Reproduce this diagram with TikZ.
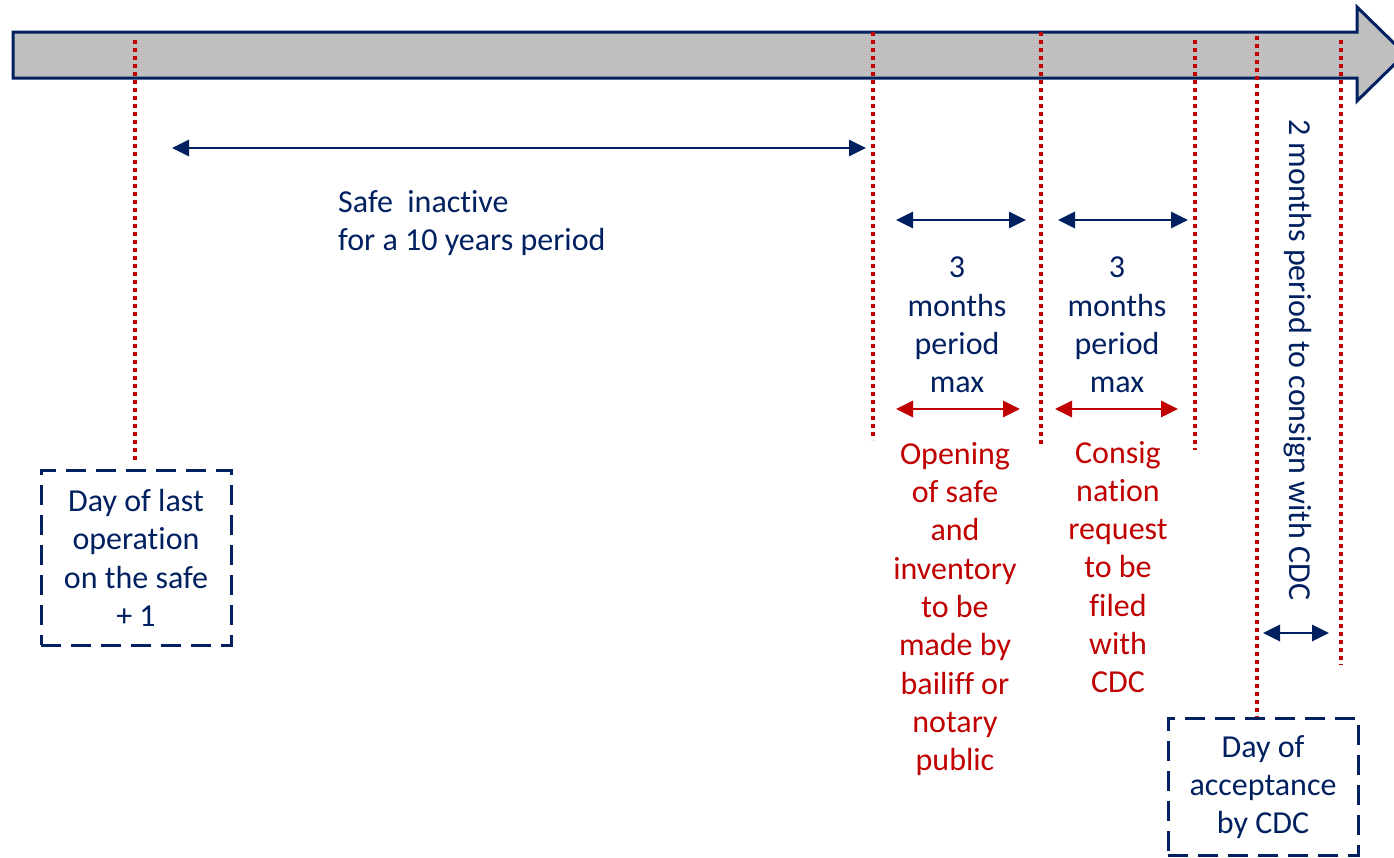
\documentclass[tikz,border=0pt]{standalone}
\usepackage{fontspec}
\setmainfont{Carlito}[Ligatures=NoCommon]
\usetikzlibrary{arrows.meta}
\definecolor{navy}{HTML}{002060}
\definecolor{darkred}{HTML}{C00000}
\definecolor{bargray}{HTML}{BFBFBF}
\tikzset{
  txt/.style={inner sep=0pt, align=center, font=\fontsize{32}{38.3}\selectfont},
  bluetxt/.style={txt, text=navy},
  redtxt/.style={txt, text=darkred},
  marker/.style={draw=darkred, line width=4pt, dash pattern=on 4pt off 4pt},
  span/.style={line width=2.8pt, {Triangle[length=17pt,width=16pt]}-{Triangle[length=17pt,width=16pt]}},
  bluespan/.style={span, draw=navy, fill=navy},
  redspan/.style={span, draw=darkred, fill=darkred},
  daybox/.style={draw=navy, line width=3pt, dash pattern=on 20pt off 10pt, minimum width=190pt, inner sep=0pt},
}
\begin{document}
\begin{tikzpicture}[x=1pt,y=-1pt]
\useasboundingbox (0,0) rectangle (1394,857);

% time axis
\draw[fill=bargray, draw=navy, line width=3pt, line join=miter]
  (13,32) -- (1357,32) -- (1357,7) -- (1405,54) -- (1357,101) -- (1357,78) -- (13,78) -- cycle;

% boxes
\node[daybox, minimum height=175pt] (start) at (136,557.5) {};
\node[bluetxt] (starttxt) at (136,558) {Day of last\\operation\\on the safe\\+ 1};
\node[daybox, minimum height=137pt] (accept) at (1263,786.5) {};
\node[bluetxt] (accepttxt) at (1263,787) {Day of\\acceptance\\by CDC};

% vertical markers
\coordinate (m1t) at (135,40);   \coordinate (m1b) at (135,460);
\coordinate (m2t) at (873,32);   \coordinate (m2b) at (873,440);
\coordinate (m3t) at (1041,32);  \coordinate (m3b) at (1041,445);
\coordinate (m4t) at (1195,40);  \coordinate (m4b) at (1195,450);
\coordinate (m5t) at (1257,36);
\coordinate (m6t) at (1341,40);  \coordinate (m6b) at (1341,665);
\draw[marker] (m1t) -- (m1b);
\draw[marker] (m2t) -- (m2b);
\draw[marker] (m3t) -- (m3b);
\draw[marker] (m4t) -- (m4b);
\draw[marker] (m5t) -- (accept.north -| m5t);
\draw[marker] (m6t) -- (m6b);

% period spans
\coordinate (a1l) at (172,148);  \coordinate (a1r) at (866,148);
\coordinate (a2l) at (896,220);  \coordinate (a2r) at (1026,220);
\coordinate (a3l) at (1058,220); \coordinate (a3r) at (1188,220);
\coordinate (r1l) at (896,409);  \coordinate (r1r) at (1020,409);
\coordinate (r2l) at (1055,409); \coordinate (r2r) at (1178,409);
\coordinate (a4l) at (1263,633); \coordinate (a4r) at (1329,633);
\draw[bluespan] (a1l) -- (a1r);
\draw[bluespan] (a2l) -- (a2r);
\draw[bluespan] (a3l) -- (a3r);
\draw[redspan] (r1l) -- (r1r);
\draw[redspan] (r2l) -- (r2r);
\draw[bluespan] (a4l) -- (a4r);

% labels
\node[bluetxt, align=left, anchor=west] (inactive) at (338,223) {Safe\ \ inactive\\for a 10 years period};
\node[bluetxt] (p1) at (957,325) {3\\months\\period\\max};
\node[bluetxt] (p2) at (1117,325) {3\\months\\period\\max};
\node[redtxt] (opening) at (955,609) {Opening\\of safe\\and\\inventory\\to be\\made by\\bailiff or\\notary\\public};
\node[redtxt] (consign) at (1118,567) {Consig\\nation\\request\\to be\\filed\\with\\CDC};
\node[bluetxt, rotate=-90] (twomonths) at (1298,360) {2 months period to consign with CDC};
\end{tikzpicture}
\end{document}
